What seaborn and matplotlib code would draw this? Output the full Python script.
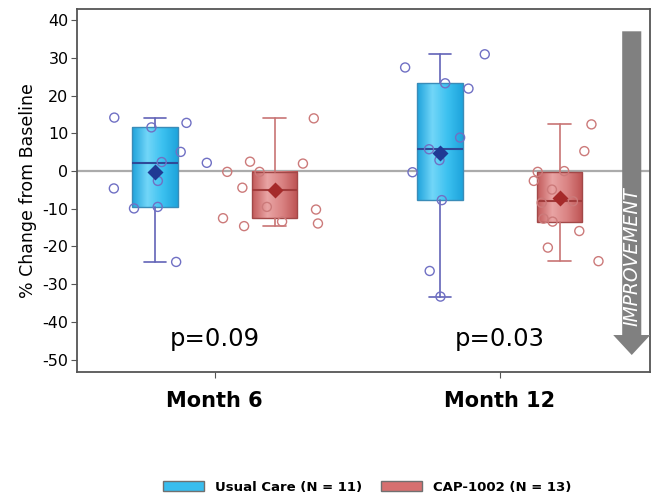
import numpy as np
import pandas as pd
import matplotlib
matplotlib.use("Agg")
import matplotlib.pyplot as plt
from matplotlib.colors import LinearSegmentedColormap
from matplotlib.patches import Patch
import seaborn as sns

# data (% change from baseline, per patient)
months = ["Month 6", "Month 12"]
groups = ["Usual Care (N = 11)", "CAP-1002 (N = 13)"]

usual_m6 = [14.2, 12.8, 11.6, 5.1, 2.2, 2.4, -2.6, -4.6, -9.9, -9.5, -24.1]
cap_m6 = [2.0, -0.2, -0.2, 2.5, 14.0, -4.4, -9.5, -10.2, -12.5, -13.4, -13.9, -14.6, -5.0]
usual_m12 = [31.0, 27.5, 23.3, 21.9, 8.9, 2.9, -0.3, -7.7, -26.5, -33.3, 5.8]
cap_m12 = [12.4, 5.3, -0.2, 0.0, -2.6, -4.9, -8.4, -8.0, -12.6, -13.4, -15.9, -20.3, -23.9]

p_values = ["p=0.09", "p=0.03"]
y_ticks = list(range(-50, 41, 10))

rows = []
for month, uc, cap in zip(months, [usual_m6, usual_m12], [cap_m6, cap_m12]):
    rows += [(month, groups[0], v) for v in uc]
    rows += [(month, groups[1], v) for v in cap]
df = pd.DataFrame(rows, columns=["month", "group", "change"])

styles = {
    groups[0]: dict(grad=["#1fa3dc", "#72d6f8", "#3cc1f0", "#1ea4dc"], face="#38bdee",
                    edge="#3a8cb8", line="#6264b8", med="#2f4a98", mean="#1f3a94",
                    point="#7070c4"),
    groups[1]: dict(grad=["#c25a5a", "#e9a4a4", "#d98282", "#bd5252"], face="#d67070",
                    edge="#a24848", line="#c87474", med="#a23c3c", mean="#a52a2a",
                    point="#cc7a7a"),
}

sns.set_style("ticks")
plt.rcParams["font.family"] = ["DejaVu Sans"]
plt.rcParams["axes.unicode_minus"] = False
plt.rcParams["text.color"] = "black"
plt.rcParams["axes.labelcolor"] = "black"

fig = plt.figure(figsize=(6.51, 5.04), dpi=100)
ax = fig.add_axes([0.118, 0.262, 0.880, 0.720])

ax.axhline(0, color="#ababab", lw=1.6, zorder=1)

# individual patients (hollow circles)
np.random.seed(7)
n_before = len(ax.collections)
sns.stripplot(data=df, x="month", y="change", hue="group", order=months,
              hue_order=groups, dodge=True, jitter=0.36, size=6.5, linewidth=1,
              palette={g: styles[g]["point"] for g in groups}, legend=False,
              ax=ax, zorder=3)
for coll in ax.collections[n_before:]:
    coll.set_edgecolors(coll.get_facecolors())
    coll.set_facecolors("none")

# group means (diamonds)
sns.pointplot(data=df, x="month", y="change", hue="group", order=months,
              hue_order=groups, estimator="mean", errorbar=None, dodge=0.42,
              markers="D", linestyles="none", markersize=6.5,
              palette={g: styles[g]["mean"] for g in groups}, legend=False,
              ax=ax, zorder=5)

# boxes, SAS style quartiles
box_width = 0.16
offset = 0.21
for i, month in enumerate(months):
    for j, g in enumerate(groups):
        v = df.loc[(df.month == month) & (df.group == g), "change"].to_numpy()
        q1, med, q3 = np.percentile(v, [25, 50, 75], method="inverted_cdf")
        iqr = q3 - q1
        lo = v[v >= q1 - 1.5 * iqr].min()
        hi = v[v <= q3 + 1.5 * iqr].max()
        pos = i + (-offset if j == 0 else offset)
        st = styles[g]
        cmap = LinearSegmentedColormap.from_list("box%d%d" % (i, j), st["grad"])
        ax.imshow(np.linspace(0, 1, 64).reshape(1, -1), cmap=cmap, aspect="auto",
                  extent=(pos - box_width / 2, pos + box_width / 2, q1, q3),
                  origin="lower", interpolation="bilinear", zorder=2.2)
        ax.bxp([dict(med=med, q1=q1, q3=q3, whislo=lo, whishi=hi, fliers=[])],
               positions=[pos], widths=box_width, capwidths=0.08,
               patch_artist=True, showfliers=False, manage_ticks=False,
               boxprops=dict(facecolor="none", edgecolor=st["edge"], lw=1),
               whiskerprops=dict(color=st["line"], lw=1.2),
               capprops=dict(color=st["line"], lw=1.2),
               medianprops=dict(color=st["med"], lw=1.5), zorder=2.5)

for i, p in enumerate(p_values):
    ax.text(i, -44.5, p, ha="center", va="center", fontsize=17.5)

# improvement arrow
ax.arrow(1.463, 37.1, 0, -85.9, width=0.067, head_width=0.13, head_length=5.3,
         length_includes_head=True, fc="#808080", ec="none", zorder=6)
ax.text(1.463, -22.8, "IMPROVEMENT", rotation=90, color="white", fontsize=13.5,
        style="italic", ha="center", va="center", zorder=7)

ax.set_xlim(-0.484, 1.526)
ax.set_ylim(-53.3, 43.0)
ax.set_aspect("auto")
ax.set_xticks([0, 1])
ax.set_xticklabels(months, fontsize=15, fontweight="bold")
ax.set_yticks(y_ticks)
ax.tick_params(axis="x", length=4, pad=10, color="#555555", labelcolor="black")
ax.tick_params(axis="y", labelsize=11.5, length=4, pad=2, color="#555555",
               labelcolor="black")
ax.set_xlabel("")
ax.set_ylabel("% Change from Baseline", fontsize=12.5, labelpad=4)
for s in ax.spines.values():
    s.set_color("#555555")
    s.set_linewidth(1.3)

handles = [Patch(facecolor=styles[g]["face"], edgecolor="#707070", lw=1) for g in groups]
fig.legend(handles, groups, loc="center", bbox_to_anchor=(367 / 651, 1 - 487 / 504),
           ncol=2, frameon=False, prop=dict(weight="bold", size=9.5),
           handlelength=3.1, handleheight=0.8, handletextpad=0.85, columnspacing=1.4)

fig.savefig("out.png", dpi=100)
